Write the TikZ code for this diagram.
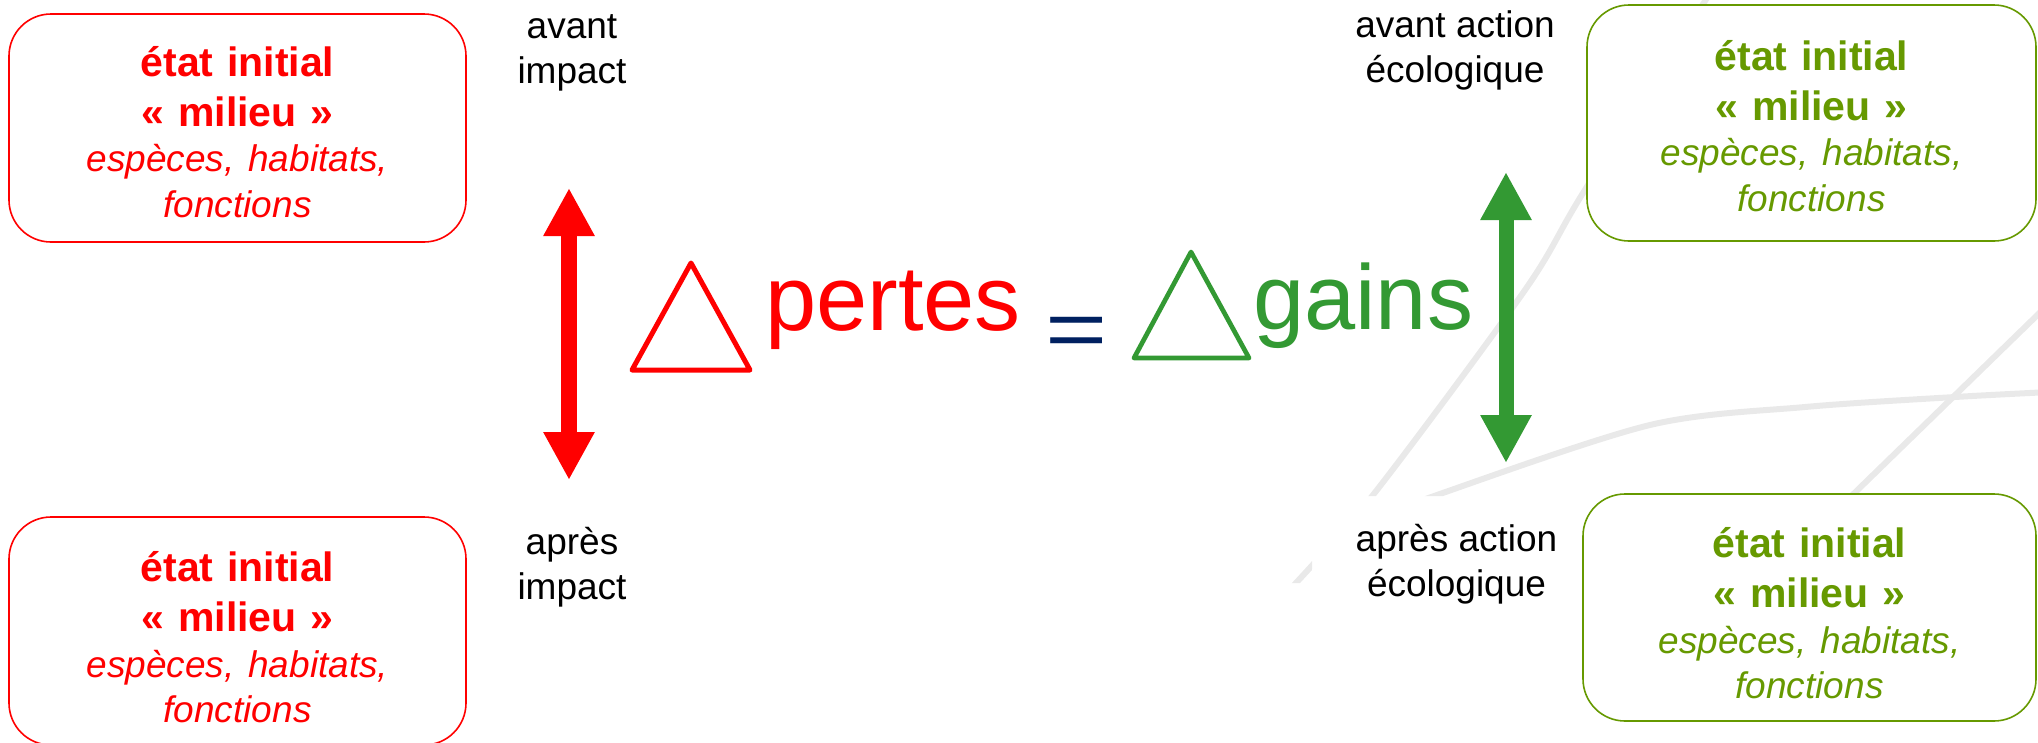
\documentclass[tikz,border=0pt]{standalone}
\usepackage{fontspec}
\usepackage{graphicx}
\setmainfont{Liberation Sans}
\usetikzlibrary{arrows.meta}
\definecolor{myred}{HTML}{FF0000}
\definecolor{gaingreen}{HTML}{339933}
\definecolor{boxgreen}{HTML}{669900}
\definecolor{navyblue}{HTML}{002060}
\definecolor{bgline}{HTML}{E9E9E9}
\newcommand\mybold{\fontsize{41}{45.5}\selectfont\bfseries}
\newcommand\myital{\fontsize{37}{45.5}\selectfont\itshape}
\newcommand\boxtext{{\mybold état initial}\\[4.5pt]{\mybold « milieu »}\\{\myital espèces, habitats,}\\{\myital fonctions}}
\tikzset{
  statebox/.style={line width=1.6pt, rounded corners=42pt, fill=white, inner sep=0pt},
  redbox/.style={statebox, draw=myred, minimum width=457pt, minimum height=228pt},
  greenbox/.style={statebox, draw=boxgreen},
  boxtxt/.style={align=center, text width=440pt, inner sep=0pt, font=\fontsize{41}{45.5}\selectfont},
  lbl/.style={align=center, inner sep=0pt, font=\fontsize{37}{45}\selectfont, text=black},
  bigword/.style={inner sep=0pt, anchor=base west, font=\fontsize{92}{110}\selectfont},
  dblarrow/.style={line width=16pt, {Triangle[length=48pt,width=48pt]}-{Triangle[length=48pt,width=48pt]}},
  bgl/.style={draw=bgline, line width=6pt},
  delta/.style={line width=5pt, line join=round}
}
\begin{document}
\begin{tikzpicture}[x=1pt,y=-1pt]
\useasboundingbox (0,0) rectangle (2038,742);
% decorative background lines
\begin{scope}
  \clip (1200,0) -- (2038,0) -- (2038,496) -- (1312,496) -- (1312,583) -- (1200,583) -- cycle;
  \draw[bgl] plot[smooth] coordinates {(1712,-10) (1583,193) (1525,290) (1373,495) (1280,600)};
  \draw[bgl] plot[smooth] coordinates {(1320,540) (1437,495) (1650,425) (1805,407) (1955,397) (2050,392)};
  \draw[bgl] (2060,293) -- (1800,546);
\end{scope}
% boxes
\node[redbox] (tl) at (237.5,128) {};
\node[redbox] (bl) at (237.5,631) {};
\node[greenbox, minimum width=449pt, minimum height=236pt] (tr) at (1811.5,123) {};
\node[greenbox, minimum width=453pt, minimum height=227pt] (br) at (1809.5,607.5) {};
% box texts
\node[boxtxt, text=myred] (tltext) at (237.5,131.75) {\boxtext};
\node[boxtxt, text=myred] (bltext) at (237.5,637.25) {\boxtext};
\node[boxtxt, text=boxgreen] (trtext) at (1811.5,125.75) {\boxtext};
\node[boxtxt, text=boxgreen] (brtext) at (1809.5,613.25) {\boxtext};
% labels
\node[lbl] (avi) at (572,52.6) {avant\\impact};
\node[lbl] (api) at (572,567.7) {après\\impact};
\node[lbl] (ava) at (1455,50.1) {avant action\\écologique};
\node[lbl] (apa) at (1456.5,564.7) {après action\\écologique};
% arrows
\coordinate (rtop) at (569,188);
\coordinate (rbot) at (569,480);
\coordinate (gtop) at (1506,172);
\coordinate (gbot) at (1506,463);
\draw[dblarrow, draw=myred, fill=myred] (rtop) -- (rbot);
\draw[dblarrow, line width=15pt, draw=gaingreen, fill=gaingreen] (gtop) -- (gbot);
% deltas
\draw[delta, myred] (632,370) -- (691,263) -- (750,370) -- cycle;
\draw[delta, gaingreen, line width=4.7pt] (1134,358) -- (1191,252) -- (1249,358) -- cycle;
% equation words
\node[bigword, text=myred] (pertes) at (765,330) {pertes};
\node[bigword, text=gaingreen] (gains) at (1253,329) {gains};
\node[inner sep=0pt, anchor=base, text=navyblue, font=\fontsize{82}{100}\selectfont] (eq) at (1076.5,357) {\scalebox{1.3}[1]{=}};
\end{tikzpicture}
\end{document}
